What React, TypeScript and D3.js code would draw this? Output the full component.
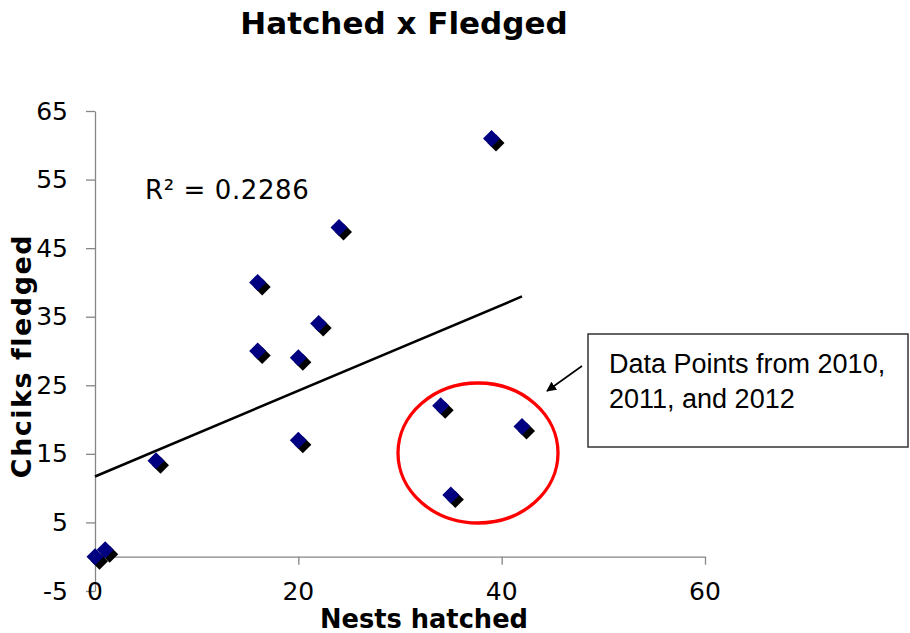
import React, { useEffect, useRef } from "react";
import * as d3 from "d3";

const nestsHatched = [0, 1, 6, 16, 16, 20, 20, 22, 24, 39, 34, 35, 42];
const chicksFledged = [0, 1, 14, 40, 30, 29, 17, 34, 48, 61, 22, 9, 19];
const xTicks = [0, 20, 40, 60];
const yTicks = [-5, 5, 15, 25, 35, 45, 55, 65];
const titleText = "Hatched x Fledged";
const xLabel = "Nests hatched";
const yLabel = "Chciks fledged";
const r2Label = "R² = 0.2286";
const calloutLines = ["Data Points from 2010,", "2011, and 2012"];

const W = 910;
const H = 633;
const FONT = "'DejaVu Sans', Verdana, sans-serif";
const AXIS = "#868686";

export default function App() {
  const ref = useRef<SVGSVGElement | null>(null);

  useEffect(() => {
    const svg = d3.select(ref.current);
    svg.selectAll("*").remove();

    const x = d3.scaleLinear().domain([0, 60]).range([95, 705]);
    const y = d3.scaleLinear().domain([-5, 65]).range([591, 111]);

    const defs = svg.append("defs");
    defs
      .append("marker")
      .attr("id", "arrowhead")
      .attr("viewBox", "0 0 10 10")
      .attr("refX", 9)
      .attr("refY", 5)
      .attr("markerWidth", 10)
      .attr("markerHeight", 10)
      .attr("markerUnits", "userSpaceOnUse")
      .attr("orient", "auto")
      .append("path")
      .attr("d", "M0,0 L10,5 L0,10 Z")
      .attr("fill", "#000");

    // Title
    svg
      .append("text")
      .attr("x", 404)
      .attr("y", 34)
      .attr("text-anchor", "middle")
      .attr("font-family", FONT)
      .attr("font-weight", "bold")
      .attr("font-size", 31)
      .text(titleText);

    // Y axis
    const yAxis = d3
      .axisLeft(y)
      .tickValues(yTicks)
      .tickSizeInner(9)
      .tickSizeOuter(0)
      .tickPadding(18)
      .tickFormat((d) => String(d));
    const gy = svg.append("g").attr("transform", `translate(${x(0)},0)`).call(yAxis);
    gy.select(".domain").attr("stroke", AXIS).attr("stroke-width", 1.3);
    gy.selectAll(".tick line").attr("stroke", AXIS).attr("stroke-width", 1.3);
    gy.selectAll(".tick text")
      .attr("font-family", FONT)
      .attr("font-size", 25)
      .attr("fill", "#000");

    // X axis line + ticks at y=0
    const xAxis = d3
      .axisBottom(x)
      .tickValues(xTicks)
      .tickSizeInner(8)
      .tickSizeOuter(0)
      .tickFormat(() => "");
    const gx = svg.append("g").attr("transform", `translate(0,${y(0)})`).call(xAxis);
    gx.select(".domain").attr("stroke", AXIS).attr("stroke-width", 1.3);
    gx.selectAll(".tick line").attr("stroke", AXIS).attr("stroke-width", 1.3);

    // X tick labels at the bottom
    svg
      .append("g")
      .selectAll("text")
      .data(xTicks)
      .join("text")
      .attr("x", (d) => x(d))
      .attr("y", 600)
      .attr("text-anchor", "middle")
      .attr("font-family", FONT)
      .attr("font-size", 25)
      .text((d) => String(d));

    // Axis titles
    svg
      .append("text")
      .attr("x", 424)
      .attr("y", 628)
      .attr("text-anchor", "middle")
      .attr("font-family", FONT)
      .attr("font-weight", "bold")
      .attr("font-size", 25.7)
      .text(xLabel);
    svg
      .append("text")
      .attr("transform", "translate(31,356) rotate(-90)")
      .attr("text-anchor", "middle")
      .attr("font-family", FONT)
      .attr("font-weight", "bold")
      .attr("font-size", 27)
      .attr("letter-spacing", 1.5)
      .text(yLabel);

    // Trendline (least squares)
    const data = nestsHatched.map((v, i) => ({ x: v, y: chicksFledged[i] }));
    const mx = d3.mean(data, (d) => d.x) as number;
    const my = d3.mean(data, (d) => d.y) as number;
    const sxy = d3.sum(data, (d) => (d.x - mx) * (d.y - my));
    const sxx = d3.sum(data, (d) => (d.x - mx) ** 2);
    const slope = sxy / sxx;
    const intercept = my - slope * mx;
    const [xmin, xmax] = d3.extent(data, (d) => d.x) as [number, number];
    const line = d3
      .line<number>()
      .x((d) => x(d))
      .y((d) => y(intercept + slope * d));
    svg
      .append("path")
      .attr("d", line([xmin, xmax]))
      .attr("stroke", "#000")
      .attr("stroke-width", 2.5)
      .attr("fill", "none");

    // Markers
    const sym = d3.symbol().type(d3.symbolSquare).size(145);
    const gm = svg.append("g");
    data.forEach((d) => {
      const cx = x(d.x);
      const cy = y(d.y);
      gm.append("path")
        .attr("d", sym())
        .attr("transform", `translate(${cx + 4.5},${cy + 4.5}) rotate(45)`)
        .attr("fill", "#000");
      gm.append("path")
        .attr("d", sym())
        .attr("transform", `translate(${cx},${cy}) rotate(45)`)
        .attr("fill", "#000080");
    });

    // R² label
    svg
      .append("text")
      .attr("x", 145)
      .attr("y", 199)
      .attr("font-family", FONT)
      .attr("font-size", 26)
      .attr("letter-spacing", 0.6)
      .attr("xml:space", "preserve")
      .text(r2Label);

    // Red ellipse
    svg
      .append("ellipse")
      .attr("cx", 478)
      .attr("cy", 453)
      .attr("rx", 80)
      .attr("ry", 70)
      .attr("fill", "none")
      .attr("stroke", "#ff0000")
      .attr("stroke-width", 3.3);

    // Arrow
    svg
      .append("line")
      .attr("x1", 582)
      .attr("y1", 366)
      .attr("x2", 547)
      .attr("y2", 391)
      .attr("stroke", "#000")
      .attr("stroke-width", 1.6)
      .attr("marker-end", "url(#arrowhead)");

    // Callout box
    svg
      .append("rect")
      .attr("x", 588)
      .attr("y", 334)
      .attr("width", 320)
      .attr("height", 113)
      .attr("fill", "#fff")
      .attr("stroke", "#333")
      .attr("stroke-width", 1.5);
    svg
      .append("g")
      .selectAll("text")
      .data(calloutLines)
      .join("text")
      .attr("x", 609)
      .attr("y", (_, i) => 373 + i * 35)
      .attr("font-family", "'Liberation Sans', Arial, sans-serif")
      .attr("font-size", 27)
      .text((d) => d);
  }, []);

  return (
    <svg
      ref={ref}
      width={W}
      height={H}
      style={{ position: "absolute", left: 0, top: 0, background: "#fff" }}
    />
  );
}
